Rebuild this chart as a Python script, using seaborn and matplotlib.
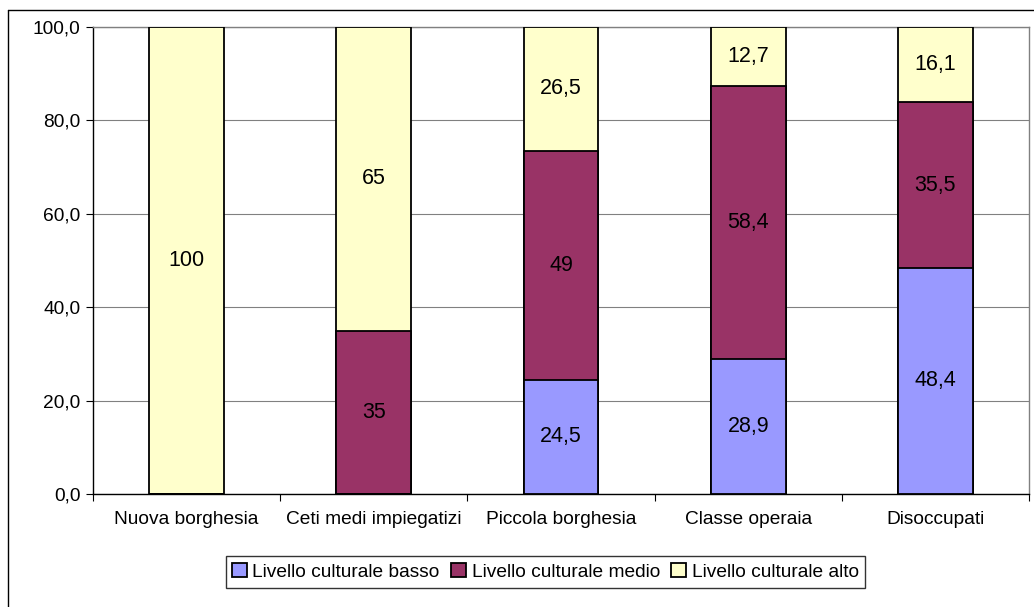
import matplotlib
matplotlib.use("Agg")
import matplotlib.pyplot as plt
import seaborn as sns
import pandas as pd
from matplotlib.patches import Patch
from matplotlib.lines import Line2D

# data
categories = ['Nuova borghesia', 'Ceti medi impiegatizi', 'Piccola borghesia',
              'Classe operaia', 'Disoccupati']
basso = [0, 0, 24.5, 28.9, 48.4]
medio = [0, 35, 49, 58.4, 35.5]
alto = [100, 65, 26.5, 12.7, 16.1]
series_names = ['Livello culturale basso', 'Livello culturale medio', 'Livello culturale alto']
colors = ['#9999FF', '#993366', '#FFFFCC']
y_ticks = [0, 20, 40, 60, 80, 100]

sns.set_style("white")
plt.rcParams['font.family'] = ['Liberation Sans', 'DejaVu Sans']
plt.rcParams['font.size'] = 13.8
plt.rcParams['text.color'] = 'black'
plt.rcParams['xtick.color'] = 'black'
plt.rcParams['ytick.color'] = 'black'

df = pd.DataFrame({'cat': categories, 'basso': basso, 'medio': medio, 'alto': alto})
df['c_medio'] = df['basso'] + df['medio']
df['c_alto'] = df['c_medio'] + df['alto']

W, H = 1034, 607
fig = plt.figure(figsize=(W / 100, H / 100), dpi=100)
ax = fig.add_axes([93 / W, 1 - 494 / H, (1029 - 93) / W, (494 - 27) / H])

# stacked bars: draw cumulative totals from the top layer down
for col, color in zip(['c_alto', 'c_medio', 'basso'], colors[::-1]):
    sns.barplot(data=df, x='cat', y=col, color=color, width=0.4, edgecolor='black',
                linewidth=1.3, saturation=1, ax=ax, zorder=3)

# value labels centred in each segment
for i in range(len(categories)):
    bottom = 0
    for vals in (basso, medio, alto):
        v = vals[i]
        if v > 0:
            ax.text(i, bottom + v / 2, '{:g}'.format(v).replace('.', ','),
                    ha='center', va='center', fontsize=15.5, color='black', zorder=4)
        bottom += v

ax.set_ylim(0, 100)
ax.set_xlim(-0.5, len(categories) - 0.5)
ax.set_yticks(y_ticks)
ax.set_yticklabels(['{:.1f}'.format(t).replace('.', ',') for t in y_ticks])
ax.set_xlabel('')
ax.set_ylabel('')
ax.yaxis.grid(True, color='#808080', linewidth=0.8, zorder=0)
ax.set_axisbelow(True)

ax.tick_params(axis='y', direction='out', length=5, width=0.8, color='black', left=True, pad=4)
ax.tick_params(axis='x', which='major', length=0, pad=12)
ax.set_xticks([x - 0.5 for x in range(len(categories) + 1)], minor=True)
ax.tick_params(axis='x', which='minor', direction='out', length=5, width=0.8, color='black', bottom=True)

for s in ['left', 'bottom']:
    ax.spines[s].set_color('black')
    ax.spines[s].set_linewidth(1.0)
for s in ['top', 'right']:
    ax.spines[s].set_color('#808080')
    ax.spines[s].set_linewidth(1.0)

handles = [Patch(facecolor=c, edgecolor='black', linewidth=1.3) for c in colors]
leg = fig.legend(handles, series_names, loc='center', ncol=3,
                 bbox_to_anchor=(545.5 / W, 1 - 572 / H), frameon=True, fancybox=False,
                 handlelength=0.75, handleheight=0.75, handletextpad=0.3,
                 columnspacing=0.6, borderpad=0.35, fontsize=13.8)
leg.get_frame().set_edgecolor('black')
leg.get_frame().set_linewidth(1.0)

# outer chart border (left and top edges visible)
fig.add_artist(Line2D([8 / W, 8 / W], [0, 1 - 10 / H], color='black', linewidth=1.0))
fig.add_artist(Line2D([8 / W, 1], [1 - 10 / H, 1 - 10 / H], color='black', linewidth=1.0))

fig.savefig('out.png', dpi=100)
